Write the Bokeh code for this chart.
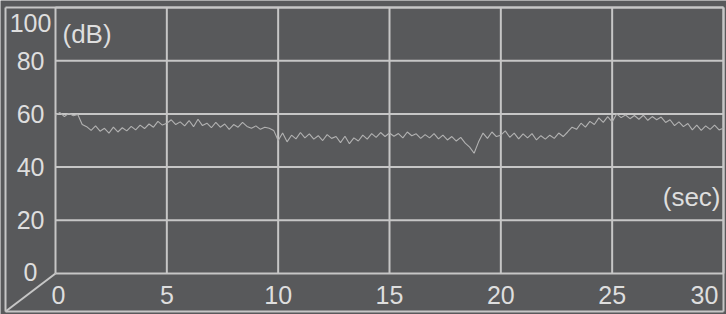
from bokeh.plotting import figure
from bokeh.models import Range1d
from bokeh.core.properties import value
from bokeh.embed import file_html
from bokeh.resources import INLINE

# ---------------- data ----------------
x_ticks = [0, 5, 10, 15, 20, 25, 30]
x_tick_labels = ["0", "5", "10", "15", "20", "25", "30"]
y_ticks = [0, 20, 40, 60, 80, 100]
y_tick_labels = ["0", "20", "40", "60", "80", "100"]
x_unit = "(sec)"
y_unit = "(dB)"

sample_step_sec = 0.2
level_db = [
    59.5, 60.5, 59.0, 60.2, 59.3, 59.8,
    56.0, 55.2, 53.8, 55.5, 53.5,
    54.6, 52.8, 55.0, 53.2, 54.8,
    53.6, 55.3, 54.0, 55.8, 54.5,
    56.2, 55.0, 57.2, 55.8, 56.5,
    57.8, 56.0, 57.0, 55.5, 57.5,
    55.2, 58.0, 55.6, 56.5, 54.8,
    56.8, 55.0, 56.2, 54.2, 56.0,
    55.0, 56.8, 55.3, 54.6, 55.5,
    54.2, 55.0, 54.6, 53.8, 50.0,
    52.8, 49.5, 52.0, 50.6, 53.0,
    51.0, 52.5, 50.5, 51.8, 50.0,
    52.2, 50.8, 51.5, 49.2, 51.6,
    48.8, 51.0, 49.8, 52.0, 50.5,
    52.6, 51.2, 53.0, 51.5, 52.8,
    51.6, 52.6, 51.0, 53.2, 51.8,
    52.5, 50.8, 52.2, 51.0, 52.6,
    50.6, 52.0, 50.2, 51.5, 49.8,
    51.2, 49.0, 47.5, 45.2, 49.5,
    52.8, 50.8, 53.2, 51.5, 52.0,
    53.6, 51.2, 52.8, 50.6, 52.5,
    51.0, 52.6, 50.2, 51.8, 50.5,
    52.0, 50.8, 52.8, 51.5, 53.2,
    55.0, 54.2, 56.5, 55.0, 57.2,
    56.0, 58.5, 56.8, 59.0, 57.0,
    60.0, 58.6, 59.6, 58.2, 59.4,
    58.0, 59.5, 57.6, 59.0, 57.8,
    58.8, 56.8, 57.8, 55.6, 57.0,
    55.2, 56.4, 54.0, 55.8, 53.8,
    55.5, 54.2, 55.8, 54.0, 54.6,
]
time_sec = [round(i * sample_step_sec, 1) for i in range(len(level_db))]

# ---------------- style / layout ----------------
BG = "#58595b"
LINE = "#c6c6c6"
TEXT = "#dedede"
TRACE = "#b2b2b2"
FONT = value("Liberation Sans")

x0, x1 = x_ticks[0], x_ticks[-1]
y0, y1 = y_ticks[0], y_ticks[-1]
frame_left = -2.245
frame_bottom = -14.3

p = figure(width=726, height=314,
           x_range=Range1d(-2.470, 30.135), y_range=Range1d(-15.41, 102.63),
           output_backend="svg", toolbar_location=None,
           x_axis_location=None, y_axis_location=None,
           min_border=0, background_fill_color=BG, border_fill_color=BG,
           outline_line_color=None)
p.grid.visible = False

# vertical grid lines
p.segment(x0=x_ticks, y0=[y0] * len(x_ticks), x1=x_ticks, y1=[y1] * len(x_ticks),
          line_color=LINE, line_width=2)
# horizontal grid lines
p.segment(x0=[x0] * len(y_ticks), y0=y_ticks, x1=[x1] * len(y_ticks), y1=y_ticks,
          line_color=LINE, line_width=2)
# frame: top, bottom, left, right, diagonal corner
p.segment(x0=[frame_left, frame_left, frame_left, x1, frame_left],
          y0=[y1, frame_bottom, frame_bottom, frame_bottom, frame_bottom],
          x1=[x1, x1, frame_left, x1, x0],
          y1=[y1, frame_bottom, y1, y1, y0],
          line_color=LINE, line_width=2)

# trace
p.line(time_sec, level_db, line_color=TRACE, line_width=1.1)

# y tick labels (screen offsets: positive = down)
y_lab_dy = [-2, 0, 0, 0, 0, 16]
p.text(x=[-1.12] * len(y_ticks), y=y_ticks, text=y_tick_labels,
       y_offset=y_lab_dy, text_color=TEXT, text_font=FONT, text_font_size="25px",
       text_align="center", text_baseline="middle")
# x tick labels
x_lab_dx = [3, 0, 0, 0, 0, 0, -19]
p.text(x=x_ticks, y=[y0] * len(x_ticks), text=x_tick_labels,
       x_offset=x_lab_dx, y_offset=[21] * len(x_ticks),
       text_color=TEXT, text_font=FONT, text_font_size="25px",
       text_align="center", text_baseline="middle")
# units
p.text(x=[x0], y=[y1], text=[y_unit], x_offset=[7], y_offset=[27],
       text_color=TEXT, text_font=FONT, text_font_size="26px",
       text_align="left", text_baseline="middle")
p.text(x=[x1], y=[y_ticks[1]], text=[x_unit], x_offset=[-3], y_offset=[-23],
       text_color=TEXT, text_font=FONT, text_font_size="26px",
       text_align="right", text_baseline="middle")

open("out.html", "w").write(file_html(p, INLINE))
